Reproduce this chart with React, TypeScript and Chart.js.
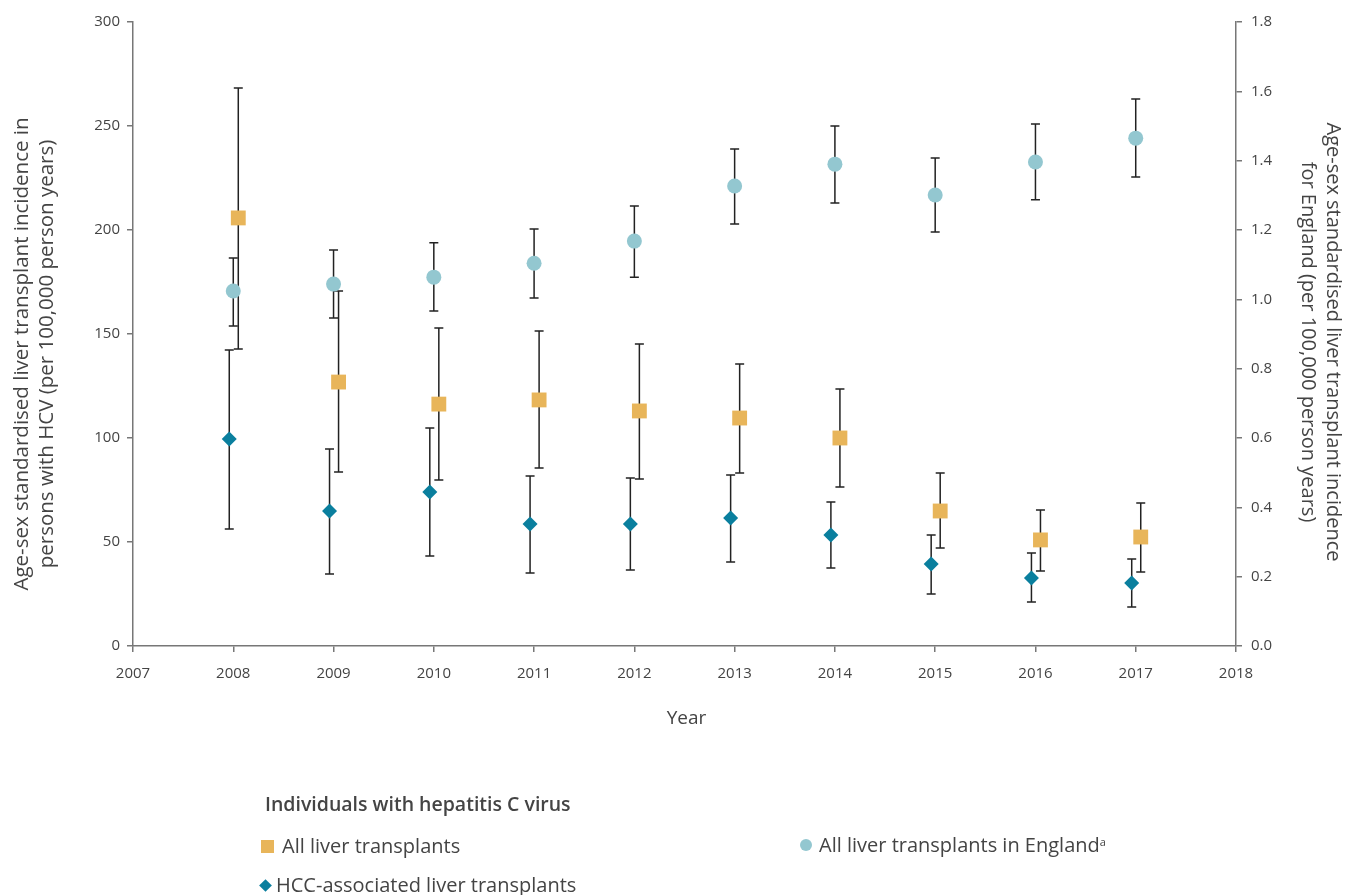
import React, { useEffect, useRef } from "react";
import { Chart, registerables } from "chart.js";

Chart.register(...registerables);

const years = [2008, 2009, 2010, 2011, 2012, 2013, 2014, 2015, 2016, 2017];

const allLT = [205.8, 126.9, 116.3, 118.3, 113.0, 109.6, 100.0, 64.9, 51.0, 52.4];
const allLTLow = [142.8, 83.7, 79.8, 85.6, 80.3, 83.2, 76.4, 47.1, 36.0, 35.6];
const allLTHigh = [268.3, 170.7, 152.9, 151.4, 145.2, 135.6, 123.6, 83.2, 65.4, 68.8];

const hcc = [99.5, 64.9, 74.0, 58.7, 58.7, 61.5, 53.4, 39.4, 32.7, 30.3];
const hccLow = [56.3, 34.6, 43.3, 35.1, 36.5, 40.4, 37.5, 25.0, 21.2, 18.8];
const hccHigh = [142.3, 94.7, 104.8, 81.7, 80.8, 82.2, 69.2, 53.4, 44.7, 41.8];

const eng = [1.024, 1.044, 1.064, 1.104, 1.168, 1.327, 1.39, 1.301, 1.396, 1.465];
const engLow = [0.923, 0.946, 0.966, 1.004, 1.064, 1.217, 1.278, 1.194, 1.287, 1.353];
const engHigh = [1.119, 1.142, 1.163, 1.203, 1.269, 1.434, 1.5, 1.408, 1.506, 1.578];

const xTickMin = 2007;
const xTickMax = 2018;

const SQUARE_OFFSET = 0.05;
const DIAMOND_OFFSET = -0.04;

const COL_SQ = "#E8B55A";
const COL_CI = "#93C7D0";
const COL_DI = "#0A7F9E";
const AXIS = "#777777";
const TEXT = "#444444";
const FONT = "'Open Sans', 'Noto Sans', sans-serif";

const errorBarPlugin = {
  id: "errorBars",
  beforeDatasetsDraw(chart: any) {
    const ctx = chart.ctx;
    ctx.save();
    ctx.strokeStyle = "#222222";
    ctx.lineWidth = 1.5;
    chart.data.datasets.forEach((ds: any, di: number) => {
      const meta = chart.getDatasetMeta(di);
      const yScale = chart.scales[ds.yAxisID];
      meta.data.forEach((pt: any, i: number) => {
        const x = pt.x;
        const yl = yScale.getPixelForValue(ds.errLow[i]);
        const yh = yScale.getPixelForValue(ds.errHigh[i]);
        ctx.beginPath();
        ctx.moveTo(x, yl);
        ctx.lineTo(x, yh);
        ctx.moveTo(x - 4.5, yl);
        ctx.lineTo(x + 4.5, yl);
        ctx.moveTo(x - 4.5, yh);
        ctx.lineTo(x + 4.5, yh);
        ctx.stroke();
      });
    });
    ctx.restore();
  },
  afterDraw(chart: any) {
    const ctx = chart.ctx;
    const area = chart.chartArea;
    ctx.save();
    ctx.fillStyle = TEXT;
    ctx.textAlign = "center";
    ctx.textBaseline = "middle";
    // left title
    ctx.font = `20.5px ${FONT}`;
    ctx.save();
    ctx.translate(22, 354);
    ctx.rotate(-Math.PI / 2);
    ctx.fillText("Age-sex standardised liver transplant incidence in", 0, 0);
    ctx.fillText("persons with HCV (per 100,000 person years)", 0, 25);
    ctx.restore();
    // right title
    ctx.font = `20px ${FONT}`;
    ctx.save();
    ctx.translate(1333, 342);
    ctx.rotate(Math.PI / 2);
    ctx.fillText("Age-sex standardised liver transplant incidence", 0, 0);
    ctx.fillText("for England (per 100,000 person years)", 0, 25);
    ctx.restore();
    // x title
    ctx.font = `19px ${FONT}`;
    ctx.fillText("Year", (area.left + area.right) / 2 + 2, 719);
    ctx.restore();
  },
};

export default function App() {
  const ref = useRef<HTMLCanvasElement>(null);

  useEffect(() => {
    if (!ref.current) return;
    const tickFont = { family: FONT, size: 15 };
    const chart = new Chart(ref.current, {
      type: "scatter",
      data: {
        datasets: [
          {
            label: "All liver transplants in England",
            data: years.map((y, i) => ({ x: y, y: eng[i] })),
            yAxisID: "y2",
            pointStyle: "circle",
            pointRadius: 7.5,
            pointHoverRadius: 7.5,
            backgroundColor: COL_CI,
            borderColor: COL_CI,
            borderWidth: 0,
            errLow: engLow,
            errHigh: engHigh,
          } as any,
          {
            label: "All liver transplants",
            data: years.map((y, i) => ({ x: y + SQUARE_OFFSET, y: allLT[i] })),
            yAxisID: "y",
            pointStyle: "rect",
            pointRadius: 10.5,
            pointHoverRadius: 10.5,
            backgroundColor: COL_SQ,
            borderColor: COL_SQ,
            borderWidth: 0,
            errLow: allLTLow,
            errHigh: allLTHigh,
          } as any,
          {
            label: "HCC-associated liver transplants",
            data: years.map((y, i) => ({ x: y + DIAMOND_OFFSET, y: hcc[i] })),
            yAxisID: "y",
            pointStyle: "rectRot",
            pointRadius: 7.5,
            pointHoverRadius: 7.5,
            backgroundColor: COL_DI,
            borderColor: COL_DI,
            borderWidth: 0,
            errLow: hccLow,
            errHigh: hccHigh,
          } as any,
        ],
      },
      options: {
        animation: false,
        responsive: false,
        devicePixelRatio: 1,
        layout: { padding: { top: 22, left: 0, right: 0, bottom: 0 } },
        plugins: { legend: { display: false }, tooltip: { enabled: false } },
        scales: {
          x: {
            type: "linear",
            min: xTickMin,
            max: xTickMax,
            afterFit: (s: any) => {
              s.height = 249;
            },
            afterBuildTicks: (s: any) => {
              const t = [];
              for (let v = xTickMin; v <= xTickMax; v++) t.push({ value: v });
              s.ticks = t;
            },
            ticks: {
              font: tickFont,
              color: TEXT,
              padding: 13,
              callback: (v: any) => String(v),
            },
            grid: {
              drawOnChartArea: false,
              drawTicks: true,
              tickLength: 6,
              color: AXIS,
              lineWidth: 1.5,
            },
            border: { display: true, color: AXIS, width: 1.5 },
          },
          y: {
            type: "linear",
            position: "left",
            min: 0,
            max: 300,
            afterFit: (s: any) => {
              s.width = 133;
            },
            ticks: { stepSize: 50, font: tickFont, color: TEXT, padding: 7 },
            grid: {
              drawOnChartArea: false,
              drawTicks: true,
              tickLength: 6,
              color: AXIS,
              lineWidth: 1.5,
            },
            border: { display: true, color: AXIS, width: 1.5 },
          },
          y2: {
            type: "linear",
            position: "right",
            min: 0,
            max: 1.8,
            afterFit: (s: any) => {
              s.width = 109;
            },
            ticks: {
              stepSize: 0.2,
              font: tickFont,
              color: TEXT,
              padding: 9,
              callback: (v: any) => Number(v).toFixed(1),
            },
            grid: {
              drawOnChartArea: false,
              drawTicks: true,
              tickLength: 6,
              color: AXIS,
              lineWidth: 1.5,
            },
            border: { display: true, color: AXIS, width: 1.5 },
          },
        },
      } as any,
      plugins: [errorBarPlugin],
    });
    return () => chart.destroy();
  }, []);

  const legendText: React.CSSProperties = {
    position: "absolute",
    fontFamily: FONT,
    fontSize: 20,
    color: TEXT,
    whiteSpace: "nowrap",
    lineHeight: "22px",
  };

  return (
    <div style={{ position: "absolute", left: 0, top: 0, width: 1345, height: 895, background: "#fff", overflow: "hidden" }}>
      <canvas ref={ref} width={1345} height={895} style={{ width: 1345, height: 895, display: "block" }} />
      <div style={{ ...legendText, left: 265, top: 793, fontWeight: 600, fontSize: 19.5 }}>Individuals with hepatitis C virus</div>
      <div style={{ position: "absolute", left: 261, top: 840, width: 13, height: 13, background: COL_SQ }} />
      <div style={{ ...legendText, left: 282, top: 835 }}>All liver transplants</div>
      <div style={{ position: "absolute", left: 261, top: 881, width: 9, height: 9, background: COL_DI, transform: "rotate(45deg)" }} />
      <div style={{ ...legendText, left: 276, top: 874 }}>HCC-associated liver transplants</div>
      <div style={{ position: "absolute", left: 800, top: 839, width: 12, height: 12, borderRadius: "50%", background: COL_CI }} />
      <div style={{ ...legendText, left: 819, top: 834 }}>
        All liver transplants in England<sup style={{ fontSize: 11, verticalAlign: "top", position: "relative", top: -3 }}>a</sup>
      </div>
    </div>
  );
}
